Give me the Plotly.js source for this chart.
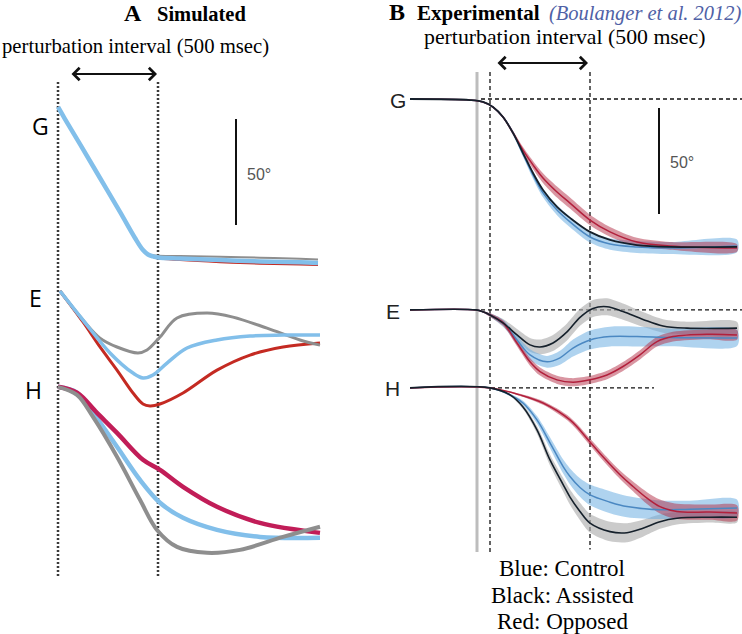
<!DOCTYPE html>
<html>
<head>
<meta charset="utf-8">
<script src="https://cdn.plot.ly/plotly-3.0.1.min.js"></script>
<style>html,body{margin:0;padding:0;background:#fff}#chart{width:742px;height:634px}</style>
</head>
<body>
<div id="chart"></div>
<script>
// ---------- Panel A: simulated joint-angle change (deg) vs time (ms) ----------
const simTimeG = [0, 35, 110, 210, 310, 385, 425, 450, 475, 500, 610, 810, 1010, 1210, 1300];
const simG_control  = [0, -5.7, -17.5, -33.5, -49.5, -61.8, -67.5, -69.6, -70.5, -71.0, -71.5, -72.2, -72.9, -73.3, -73.6];
const simG_opposed  = [0, -5.5, -17.0, -33.0, -49.0, -61.3, -67.2, -69.7, -70.9, -71.5, -72.3, -73.3, -74.0, -74.4, -74.6];
const simG_assisted = [0, -5.7, -17.5, -33.5, -49.5, -61.8, -67.5, -69.4, -70.0, -70.2, -70.3, -70.6, -71.1, -71.6, -71.9];

const simTimeE_control = [10, 125, 260, 375, 425, 475, 545, 645, 795, 960, 1125, 1310];
const simE_control = [0, -13.7, -29.2, -38.7, -41.0, -39.6, -34.0, -26.9, -23.1, -21.2, -20.8, -20.8];
const simTimeE_assisted = [10, 125, 210, 295, 400, 445, 510, 595, 745, 875, 1045, 1210, 1310];
const simE_assisted = [0, -13.7, -22.2, -26.4, -29.2, -27.8, -21.7, -12.7, -10.4, -12.3, -17.5, -23.1, -25.5];
const simTimeE_opposed = [10, 125, 210, 295, 375, 425, 460, 510, 625, 795, 960, 1125, 1310];
const simE_opposed = [0, -14.6, -26.4, -37.3, -48.1, -53.3, -54.2, -53.3, -48.1, -37.3, -30.2, -26.4, -24.5];

const simTimeH_control = [0, 95, 175, 295, 410, 510, 625, 795, 1010, 1310];
const simH_control = [0, -2.8, -12.3, -28.3, -43.9, -54.7, -61.8, -67.5, -70.8, -71.2];
const simTimeH_assisted = [0, 95, 175, 295, 410, 495, 595, 745, 910, 1125, 1310];
const simH_assisted = [0, -3.8, -14.2, -33.0, -53.3, -67.5, -75.5, -78.3, -76.9, -70.8, -66.0];
const simTimeH_opposed = [0, 95, 195, 295, 425, 510, 625, 795, 1010, 1310];
const simH_opposed = [0, -2.8, -12.3, -21.7, -34.4, -39.2, -47.2, -56.6, -64.2, -68.9];

// ---------- Panel B: experimental mean (deg) and band half-width (deg) vs time (ms) ----------
const expTimeG = [-400, -100, -35, 15, 65, 115, 165, 215, 265, 335, 400, 500, 600, 735, 900, 1235];
const expG_assisted = [0, -0.5, -1.4, -3.8, -8.5, -16.0, -25.5, -34.9, -42.9, -50.9, -56.1, -62.7, -66.5, -68.9, -69.8, -69.8];
const expG_control  = [0, -0.5, -1.4, -3.8, -8.5, -16.0, -25.9, -35.8, -44.3, -52.4, -58.0, -65.1, -68.4, -69.8, -70.3, -69.3];
const expG_controlSD = [0, 0, 0, 0.3, 0.6, 1.0, 1.4, 1.8, 2.1, 2.4, 2.5, 2.6, 2.7, 2.8, 2.8, 3.0];
const expG_opposed  = [0, -0.5, -1.4, -3.8, -8.5, -16.0, -24.1, -31.1, -37.3, -43.9, -49.1, -57.1, -62.7, -67.5, -69.3, -70.3];
const expG_opposedSD = [0, 0, 0, 0.3, 0.6, 1.0, 1.4, 1.9, 2.3, 2.6, 2.6, 2.5, 2.3, 2.0, 1.8, 1.8];

const expTimeE_assisted = [-400, -70, -35, 0, 65, 135, 200, 250, 315, 385, 450, 515, 585, 665, 765, 865, 985, 1235];
const expE_assisted = [0, 0, -0.9, -2.4, -6.1, -11.8, -16.5, -17.5, -15.6, -10.4, -3.5, 0.7, 1.5, -0.8, -4.5, -7.6, -8.6, -8.6];
const expE_assistedSD = [0, 0, 0.3, 0.8, 1.8, 2.8, 3.3, 3.5, 3.8, 4.0, 4.0, 4.0, 4.0, 3.8, 3.5, 3.2, 3.0, 3.0];
const expTimeE_control = [-400, -70, -35, 0, 65, 135, 200, 285, 350, 415, 500, 600, 735, 900, 1235];
const expE_control = [0, 0, -0.9, -2.4, -6.1, -14.2, -21.2, -24.5, -22.6, -18.0, -14.2, -12.6, -12.6, -13.0, -13.2];
const expE_controlSD = [0, 0, 0.3, 0.8, 1.5, 2.2, 2.6, 2.8, 3.3, 4.0, 4.5, 4.7, 4.7, 4.2, 3.8];
const expTimeE_opposed = [-400, -70, -35, 0, 65, 135, 200, 250, 335, 415, 500, 585, 665, 750, 835, 915, 1085, 1235];
const expE_opposed = [0, 0, -0.9, -2.4, -6.1, -15.6, -24.5, -29.1, -33.0, -34.1, -33.0, -30.7, -26.7, -21.2, -15.0, -12.6, -11.5, -11.8];
const expE_opposedSD = [0, 0, 0.3, 0.8, 1.2, 1.6, 1.8, 1.9, 1.9, 1.9, 1.9, 2.0, 2.1, 2.2, 2.3, 2.3, 2.3, 2.3];

const expTimeH_assisted = [-400, 0, 100, 165, 235, 300, 365, 400, 450, 500, 600, 685, 765, 850, 935, 1100, 1235];
const expH_assisted = [0, 0, -3.3, -9.0, -19.8, -34.0, -45.5, -51.5, -58.3, -63.8, -67.8, -68.3, -66.2, -63.1, -61.5, -61.0, -61.0];
const expH_assistedSD = [0, 0, 0.5, 1.0, 1.8, 2.6, 3.2, 3.6, 4.1, 4.4, 4.6, 4.5, 4.0, 3.4, 2.9, 2.5, 2.5];
const expTimeH_control = [-400, 0, 100, 165, 235, 300, 365, 400, 450, 500, 600, 685, 850, 1000, 1235];
const expH_control = [0, 0, -3.3, -7.1, -15.1, -25.9, -37.0, -41.8, -47.0, -50.5, -53.9, -56.0, -57.5, -57.2, -56.7];
const expH_controlSD = [0, 0, 0.5, 1.0, 1.8, 2.6, 3.3, 3.8, 4.4, 4.9, 5.2, 5.0, 4.4, 4.0, 4.0];
const expTimeH_opposed = [-400, 0, 150, 265, 400, 500, 565, 650, 715, 785, 850, 935, 1100, 1235];
const expH_opposed = [0, 0, -3.3, -7.1, -15.1, -25.5, -32.5, -41.0, -46.5, -52.0, -56.0, -58.3, -58.6, -59.0];
const expH_opposedSD = [0, 0, 0.5, 0.9, 1.3, 1.6, 1.8, 2.0, 2.3, 2.8, 3.3, 3.6, 3.6, 3.6];

// ---------- layout constants (vertical placement of each joint trace) ----------
const PERT_START = 0, PERT_END = 500, SCALE_DEG = 50;
const baseA = {G: -3.77, E: -90.6, H: -135.8};
const baseB = {G: 0, E: -99.5, H: -136.3};

const C = {
  simBlue: '#82bfea', simGray: '#8e8e8e', simRed: '#c42a22', simCrimson: '#c11d58',
  expBlack: '#15202b', expBlue: '#4b88c2', expRed: '#b2203c',
  bandGray: 'rgba(175,175,175,0.65)', bandBlue: 'rgba(110,175,225,0.55)', bandRed: 'rgba(180,45,70,0.5)'
};

const traces = [];
function addLine(t, v, base, xa, color, width) {
  traces.push({type: 'scatter', mode: 'lines', x: t, y: v.map(d => d + base), xaxis: xa, yaxis: 'y',
    line: {color: color, width: width, shape: 'spline', smoothing: 1}, hoverinfo: 'skip'});
}
function addBand(t, v, sd, base, xa, color) {
  const up = v.map((d, i) => d + sd[i] + base);
  const lo = v.map((d, i) => d - sd[i] + base);
  traces.push({type: 'scatter', mode: 'lines', x: t.concat(t.slice().reverse()), y: up.concat(lo.reverse()),
    xaxis: xa, yaxis: 'y', fill: 'toself', fillcolor: color, line: {width: 0, shape: 'spline', smoothing: 0.8},
    hoverinfo: 'skip'});
}

// Panel A
addLine(simTimeG, simG_opposed, baseA.G, 'x', C.simRed, 1.6);
addLine(simTimeG, simG_assisted, baseA.G, 'x', C.simGray, 2);
addLine(simTimeG, simG_control, baseA.G, 'x', C.simBlue, 4.5);
addLine(simTimeE_opposed, simE_opposed, baseA.E, 'x', C.simRed, 3);
addLine(simTimeE_assisted, simE_assisted, baseA.E, 'x', C.simGray, 3);
addLine(simTimeE_control, simE_control, baseA.E, 'x', C.simBlue, 3.5);
addLine(simTimeH_control, simH_control, baseA.H, 'x', C.simBlue, 4.5);
addLine(simTimeH_opposed, simH_opposed, baseA.H, 'x', C.simCrimson, 4.5);
addLine(simTimeH_assisted, simH_assisted, baseA.H, 'x', C.simGray, 4);

// Panel B bands
addBand(expTimeG, expG_control, expG_controlSD, baseB.G, 'x2', C.bandBlue);
addBand(expTimeG, expG_opposed, expG_opposedSD, baseB.G, 'x2', C.bandRed);
addBand(expTimeE_assisted, expE_assisted, expE_assistedSD, baseB.E, 'x2', C.bandGray);
addBand(expTimeE_control, expE_control, expE_controlSD, baseB.E, 'x2', C.bandBlue);
addBand(expTimeE_opposed, expE_opposed, expE_opposedSD, baseB.E, 'x2', C.bandRed);
addBand(expTimeH_assisted, expH_assisted, expH_assistedSD, baseB.H, 'x2', C.bandGray);
addBand(expTimeH_control, expH_control, expH_controlSD, baseB.H, 'x2', C.bandBlue);
addBand(expTimeH_opposed, expH_opposed, expH_opposedSD, baseB.H, 'x2', C.bandRed);
// Panel B means
addLine(expTimeG, expG_control, baseB.G, 'x2', C.expBlue, 1.5);
addLine(expTimeG, expG_opposed, baseB.G, 'x2', C.expRed, 1.5);
addLine(expTimeG, expG_assisted, baseB.G, 'x2', C.expBlack, 1.8);
addLine(expTimeE_control, expE_control, baseB.E, 'x2', C.expBlue, 1.5);
addLine(expTimeE_opposed, expE_opposed, baseB.E, 'x2', C.expRed, 1.5);
addLine(expTimeE_assisted, expE_assisted, baseB.E, 'x2', C.expBlack, 1.6);
addLine(expTimeH_control, expH_control, baseB.H, 'x2', C.expBlue, 1.5);
addLine(expTimeH_opposed, expH_opposed, baseB.H, 'x2', C.expRed, 1.5);
addLine(expTimeH_assisted, expH_assisted, baseB.H, 'x2', C.expBlack, 1.6);

// ---------- reference lines ----------
const shapes = [];
function seg(xref, x0, x1, y0, y1, color, width, dash) {
  shapes.push({type: 'line', xref: xref, yref: 'y', x0: x0, x1: x1, y0: y0, y1: y1,
    line: {color: color, width: width, dash: dash || 'solid'}, layer: 'below'});
}
// Panel A dotted perturbation boundaries
seg('x', PERT_START, PERT_START, 8.0, -226, '#3a3a3a', 2.5, '2px,2px');
seg('x', PERT_END, PERT_END, 8.0, -226, '#3a3a3a', 2.5, '2px,2px');
// Panel A scale bar
seg('x', 890, 890, -9.4, -9.4 - SCALE_DEG, '#111', 2);
// Panel B gray onset line, dashed boundaries, horizontal references
seg('x2', -65, -65, 12.7, -213.7, '#bdbdbd', 3);
seg('x2', PERT_START, PERT_START, 12.7, -213.7, '#111', 1.3, '4px,3px');
seg('x2', PERT_END, PERT_END, 12.7, -212.5, '#111', 1.3, '4px,3px');
seg('x2', -45, 1260, baseB.G, baseB.G, '#111', 1.3, '4px,3px');
seg('x2', -45, 1260, baseB.E, baseB.E, '#111', 1.3, '4px,3px');
seg('x2', 5, 820, baseB.H, baseB.H, '#111', 1.3, '4px,3px');
// Panel B scale bar
seg('x2', 845, 845, -4.2, -4.2 - SCALE_DEG, '#111', 2);

// ---------- text ----------
const W = 742, H = 634;
const serif = 'Liberation Serif, Times New Roman, serif';
function txt(px, py, text, size, family, color, anchor) {
  return {xref: 'paper', yref: 'paper', x: px / W, y: 1 - py / H, text: text, showarrow: false,
    xanchor: anchor || 'center', yanchor: 'middle', font: {size: size, family: family, color: color || '#000'}};
}
const annotations = [
  txt(133, 13, '<b>A</b>', 24, serif),
  txt(201, 14, '<b>Simulated</b>', 20.5, serif),
  txt(135, 47, 'perturbation interval (500 msec)', 20.7, serif),
  txt(397, 12, '<b>B</b>', 24, serif),
  txt(478, 13, '<b>Experimental</b>', 21, serif),
  txt(645, 14, '<i>(Boulanger et al. 2012)</i>', 20.5, serif, '#4f61a6'),
  txt(564, 37, 'perturbation interval (500 msec)', 21.8, serif),
  txt(40, 126, 'G', 23, 'Open Sans, sans-serif'),
  txt(35, 298, 'E', 23, 'Open Sans, sans-serif'),
  txt(33, 390, 'H', 23, 'Open Sans, sans-serif'),
  txt(398, 100, 'G', 21, 'Liberation Sans, Arial, sans-serif', '#222'),
  txt(393, 311, 'E', 21, 'Liberation Sans, Arial, sans-serif', '#222'),
  txt(392, 388, 'H', 21, 'Liberation Sans, Arial, sans-serif', '#222'),
  txt(245, 174, '50°', 16, 'Liberation Sans, Arial, sans-serif', '#555', 'left'),
  txt(668, 163, '50°', 16, 'Liberation Sans, Arial, sans-serif', '#555', 'left'),
  txt(562, 568, 'Blue: Control', 23, serif),
  txt(562, 595, 'Black: Assisted', 23, serif),
  txt(562, 621, 'Red: Opposed', 23, serif),
  {xref: 'x', yref: 'y', axref: 'x', ayref: 'y', x: 495, y: 11.8, ax: 60, ay: 11.8, text: '',
   showarrow: true, arrowhead: 4, startarrowhead: 4, arrowside: 'end+start', arrowwidth: 2,
   arrowsize: 1.2, startarrowsize: 1.2, arrowcolor: '#111'},
  {xref: 'x2', yref: 'y', axref: 'x2', ayref: 'y', x: 490, y: 17.0, ax: 30, ay: 17.0, text: '',
   showarrow: true, arrowhead: 4, startarrowhead: 4, arrowside: 'end+start', arrowwidth: 2,
   arrowsize: 1.2, startarrowsize: 1.2, arrowcolor: '#111'}
];

const layout = {
  width: W, height: H, margin: {l: 0, r: 0, t: 0, b: 0},
  paper_bgcolor: '#fff', plot_bgcolor: 'rgba(0,0,0,0)', showlegend: false,
  xaxis: {domain: [0, 0.5], range: [-290, 1565], visible: false, fixedrange: true},
  xaxis2: {domain: [0.5, 1], range: [-595, 1260], visible: false, anchor: 'y', fixedrange: true},
  yaxis: {domain: [0, 1], range: [-252.4, 46.7], visible: false, fixedrange: true},
  shapes: shapes, annotations: annotations
};
Plotly.newPlot('chart', traces, layout, {displayModeBar: false, staticPlot: true});
</script>
</body>
</html>
